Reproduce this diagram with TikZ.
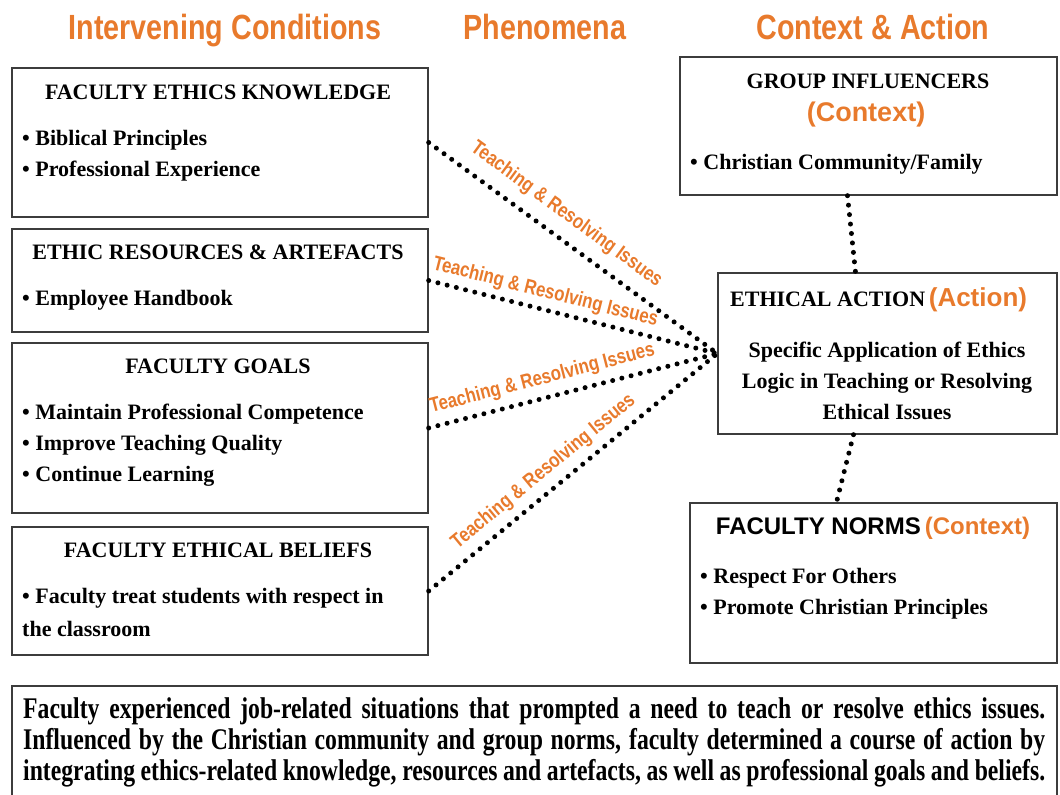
\documentclass[tikz,border=0pt]{standalone}
\usepackage{fontspec}
\setmainfont{Liberation Serif}
\newfontfamily\headfont[FakeStretch=0.82]{Liberation Sans}
\newfontfamily\sansfont{Liberation Sans}
\newfontfamily\notefont[FakeStretch=0.79]{Liberation Serif}
\definecolor{headorange}{HTML}{E87A2C}
\definecolor{boxline}{HTML}{3C3C3C}
\newcommand{\sumline}[1]{\makebox[1022pt][s]{#1}}
\tikzset{
  box/.style={draw=boxline, line width=1.4pt, rectangle, minimum width=416pt, inner sep=0pt},
  rbox/.style={draw=boxline, line width=1.4pt, rectangle, inner sep=0pt},
  heading/.style={text=headorange, anchor=base, font=\headfont\bfseries\fontsize{35}{40}\selectfont},
  title/.style={font=\bfseries\fontsize{22}{31}\selectfont, inner sep=0pt},
  item/.style={font=\bfseries\fontsize{22}{31}\selectfont, inner sep=0pt, anchor=west},
  dotline/.style={line width=5pt, line cap=round, dash pattern=on 0pt off 9.5pt},
  edgelab/.style={sloped, text=headorange, inner sep=0pt,
    font=\headfont\bfseries\fontsize{20.5}{22}\selectfont}
}
\begin{document}
\begin{tikzpicture}[x=1pt, y=-1pt]
\useasboundingbox (0,0) rectangle (1060,795);
% column headings
\node[heading] (hcond) at (225,39) {Intervening Conditions};
\node[heading] (hphen) at (545,39) {Phenomena};
\node[heading] (hctx) at (873,39) {Context \& Action};

% left column
\node[box, minimum height=149pt] (know) at (220,142.5) {};
\node[title] (knowT) at (218,92) {FACULTY ETHICS KNOWLEDGE};
\node[item] (knowA) at (22,140) {• Biblical Principles};
\node[item] (knowB) at (22,171) {• Professional Experience};

\node[box, minimum height=103pt] (res) at (220,280.5) {};
\node[title] (resT) at (218,252) {ETHIC RESOURCES \& ARTEFACTS};
\node[item] (resA) at (22,300) {• Employee Handbook};

\node[box, minimum height=170pt] (goal) at (220,428) {};
\node[title] (goalT) at (218,366) {FACULTY GOALS};
\node[item] (goalA) at (22,414) {• Maintain Professional Competence};
\node[item] (goalB) at (22,445) {• Improve Teaching Quality};
\node[item] (goalC) at (22,476) {• Continue Learning};

\node[box, minimum height=128pt] (belief) at (220,591) {};
\node[title] (beliefT) at (218,550) {FACULTY ETHICAL BELIEFS};
\node[item] (beliefA) at (22,598) {• Faculty treat students with respect in};
\node[item] (beliefB) at (22,629) {the classroom};

% right column
\node[rbox, minimum width=377pt, minimum height=138pt] (group) at (868.5,126) {};
\node[title] (groupT) at (868,81) {GROUP INFLUENCERS};
\node[text=headorange, font=\sansfont\bfseries\fontsize{27}{30}\selectfont, inner sep=0pt] (groupC) at (866,115) {(Context)};
\node[item] (groupA) at (690,164) {• Christian Community/Family};

\node[rbox, minimum width=339pt, minimum height=161pt] (act) at (887.5,353.5) {};
\node[item] (actT) at (730,300) {ETHICAL ACTION\,{\sansfont\color{headorange}\fontsize{26}{30}\selectfont(Action)}};
\node[title, align=center] (actB) at (887,381) {Specific Application of Ethics\\Logic in Teaching or Resolving\\Ethical Issues};

\node[rbox, minimum width=367pt, minimum height=160pt] (norm) at (873.5,583) {};
\node[font=\sansfont\bfseries\fontsize{24}{30}\selectfont, inner sep=0pt] (normT) at (873,528) {FACULTY NORMS\,\textcolor{headorange}{(Context)}};
\node[item] (normA) at (700,578) {• Respect For Others};
\node[item] (normB) at (700,609) {• Promote Christian Principles};

% connectors
\foreach \b/\p/\d in {know/0.43/11pt, res/0.39/5pt, goal/0.41/7pt, belief/0.44/7pt}
  \draw[dotline] (\b.east) -- (act.west) node[edgelab, above=\d, pos=\p] {Teaching \& Resolving Issues};
\draw[dotline] ([xshift=-21pt]group.south) -- ([xshift=-32pt]act.north);
\draw[dotline] ([xshift=-34pt]act.south) -- ([xshift=-37pt]norm.north);

% summary
\node[rbox, minimum width=1045pt, minimum height=114pt] (sum) at (534.5,743) {};
\node[anchor=north west, inner sep=0pt, align=left,
  font=\notefont\bfseries\fontsize{30}{31}\selectfont] (sumT) at (23,697)
  {\sumline{Faculty experienced job-related situations that prompted a need to teach or resolve ethics issues.}\\
   \sumline{Influenced by the Christian community and group norms, faculty determined a course of action by}\\
   \sumline{integrating ethics-related knowledge, resources and artefacts, as well as professional goals and beliefs.}};
\end{tikzpicture}
\end{document}
